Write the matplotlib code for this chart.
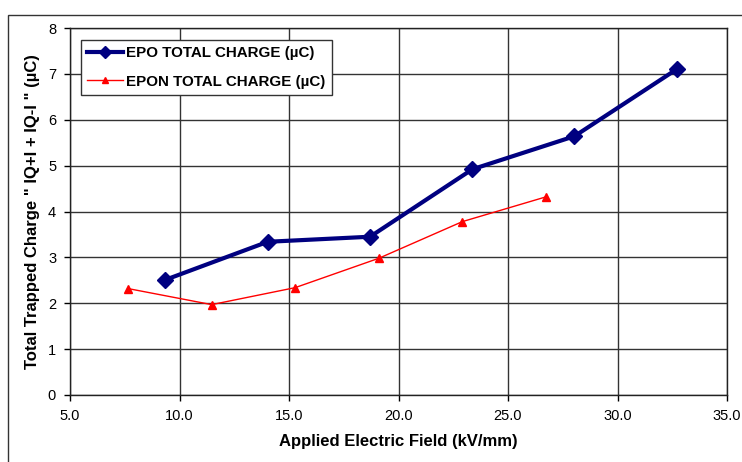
import matplotlib
matplotlib.use("Agg")
import matplotlib.pyplot as plt
import matplotlib.patches as patches

plt.rcParams['font.family'] = ['Liberation Sans', 'DejaVu Sans']

# applied field (kV/mm) and total trapped charge (uC)
epo_field = [9.35, 14.03, 18.70, 23.37, 28.03, 32.70]
epo_charge = [2.51, 3.34, 3.45, 4.92, 5.64, 7.10]
epon_field = [7.65, 11.47, 15.28, 19.10, 22.92, 26.74]
epon_charge = [2.32, 1.97, 2.34, 2.98, 3.78, 4.32]

x_ticks = [5.0, 10.0, 15.0, 20.0, 25.0, 30.0, 35.0]
y_ticks = [0, 1, 2, 3, 4, 5, 6, 7, 8]

fig = plt.figure(figsize=(7.42, 4.62), dpi=100)
ax = fig.add_axes([70 / 742, 1 - 395 / 462, 657 / 742, 367 / 462])

# outer chart frame
fig.add_artist(patches.Rectangle((8 / 742, -0.1), 1.0, (462 - 15) / 462 + 0.1,
                                 transform=fig.transFigure, fill=False,
                                 edgecolor='#333333', linewidth=1.0))

ax.plot(epo_field, epo_charge, color='#000080', linewidth=3, marker='D',
        markersize=8, label='EPO TOTAL CHARGE (µC)', zorder=3)
ax.plot(epon_field, epon_charge, color='#ff0000', linewidth=1, marker='^',
        markersize=6, label='EPON TOTAL CHARGE (µC)', zorder=3)

ax.set_xlim(5, 35)
ax.set_ylim(0, 8)
ax.set_xticks(x_ticks)
ax.set_xticklabels(['%.1f' % t for t in x_ticks])
ax.set_yticks(y_ticks)
ax.tick_params(direction='out', length=4, width=1, labelsize=10.5, pad=6)
ax.grid(True, color='#333333', linewidth=1.0)
ax.set_axisbelow(True)
for s in ax.spines.values():
    s.set_color('#222222')
    s.set_linewidth(1.0)

ax.set_xlabel('Applied Electric Field (kV/mm)', fontsize=12, fontweight='bold', labelpad=8)
ax.set_ylabel('Total Trapped Charge " IQ+I + IQ-I " (µC)', fontsize=12,
              fontweight='bold', labelpad=6)

leg = ax.legend(loc='upper left', bbox_to_anchor=(11 / 657, 355 / 367), fancybox=False,
                framealpha=1, edgecolor='#333333', prop={'weight': 'bold', 'size': 10.9},
                handlelength=2.35, borderpad=0.42, labelspacing=0.95, handletextpad=0.2,
                borderaxespad=0, markerscale=0.75)
leg.get_frame().set_linewidth(1.0)

fig.savefig('out.png', dpi=100)
